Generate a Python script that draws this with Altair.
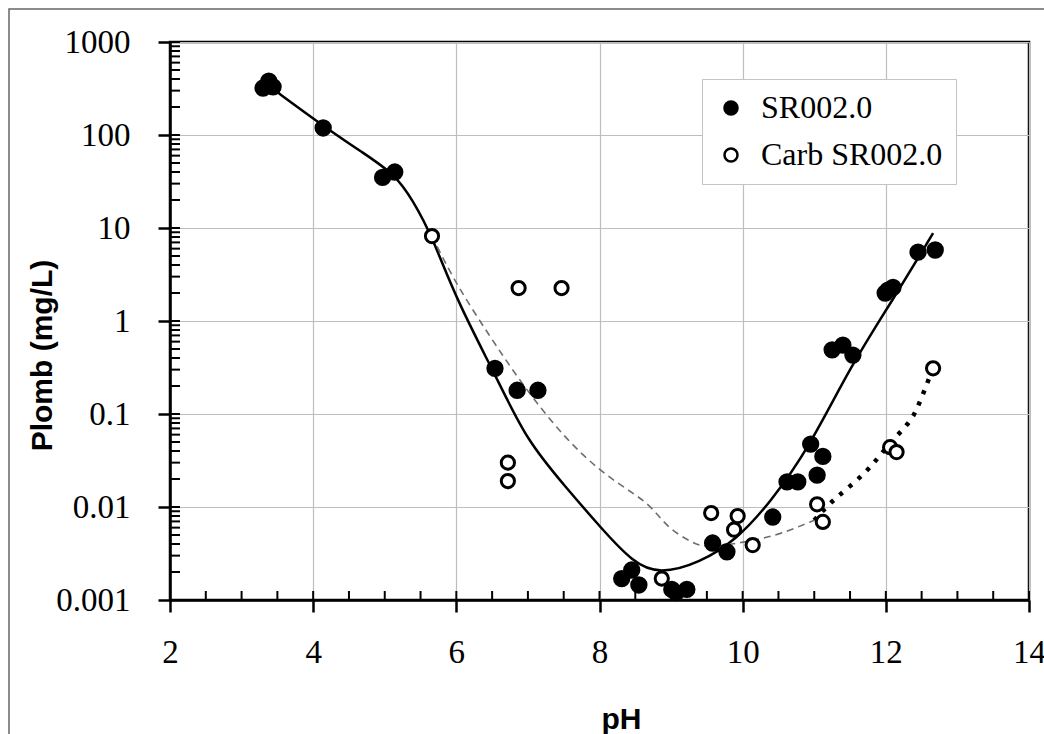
import altair as alt
import pandas as pd

# Measured lead concentrations (mg/L) versus pH
sr_ph = [3.30, 3.38, 3.44, 4.14, 4.97, 5.14, 6.54, 6.85, 7.14,
         8.31, 8.45, 8.55, 9.01, 9.07, 9.22, 9.58, 9.78, 10.42,
         10.62, 10.77, 10.95, 11.04, 11.12, 11.25, 11.40, 11.54,
         11.99, 12.03, 12.10, 12.45, 12.69]
sr_pb = [320, 380, 330, 119, 35, 40, 0.31, 0.18, 0.18,
         0.0017, 0.0021, 0.00145, 0.0013, 0.0012, 0.0013, 0.0041, 0.0033, 0.0078,
         0.0186, 0.0186, 0.0475, 0.022, 0.035, 0.49, 0.55, 0.43,
         2.0, 2.15, 2.3, 5.5, 5.8]

carb_ph = [5.66, 6.87, 7.47, 6.72, 6.72, 8.87, 9.56, 9.93, 9.88, 10.14,
           11.04, 11.12, 12.06, 12.15, 12.66]
carb_pb = [8.2, 2.26, 2.26, 0.030, 0.019, 0.0017, 0.0086, 0.008, 0.0057, 0.0039,
           0.0107, 0.0069, 0.044, 0.039, 0.31]

# Fitted curves
fit_ph = [3.42, 4.14, 4.70, 5.14, 5.39, 5.66, 6.00, 6.56, 6.98, 7.54, 8.00,
          8.47, 8.84, 9.40, 9.92, 10.38, 10.94, 11.50, 12.10, 12.66]
fit_pb = [320, 125, 64, 38, 20, 8.2, 1.7, 0.25, 0.052, 0.016, 0.0062,
          0.0025, 0.0019, 0.0025, 0.0045, 0.011, 0.045, 0.32, 1.7, 8.8]

carb_fit_ph = [5.66, 5.98, 6.47, 6.85, 7.31, 7.77, 8.24, 8.70, 8.94, 9.30,
               9.50, 10.28, 10.66, 11.00]
carb_fit_pb = [8.2, 2.6, 0.68, 0.25, 0.085, 0.035, 0.018, 0.011, 0.006, 0.0041,
               0.0036, 0.0045, 0.0056, 0.0072]

carb_tail_ph = [11.00, 11.26, 11.73, 12.01, 12.33, 12.43, 12.54, 12.62]
carb_tail_pb = [0.0072, 0.012, 0.023, 0.045, 0.08, 0.11, 0.18, 0.26]

series_names = ["SR002.0", "Carb SR002.0"]

x_ticks = [2, 4, 6, 8, 10, 12, 14]
x_minor = [v / 2 for v in range(5, 28) if v % 4 != 0]
y_ticks = [0.001, 0.01, 0.1, 1, 10, 100, 1000]
y_minor = [m * 10.0 ** e for e in range(-3, 3) for m in range(1, 10)] + [1000]

W, H = 859, 558
SERIF = "Liberation Serif"
SANS = "Liberation Sans"

sr_df = pd.DataFrame({"ph": sr_ph, "pb": sr_pb, "series": series_names[0]})
carb_df = pd.DataFrame({"ph": carb_ph, "pb": carb_pb, "series": series_names[1]})
fit = pd.DataFrame({"ph": fit_ph, "pb": fit_pb})
carb_fit = pd.DataFrame({"ph": carb_fit_ph, "pb": carb_fit_pb})
carb_tail = pd.DataFrame({"ph": carb_tail_ph, "pb": carb_tail_pb})
ytick_df = pd.DataFrame({"pb": y_minor})
xtick_df = pd.DataFrame({"ph": x_ticks + x_minor})

x_scale = alt.Scale(domain=[2, 14], nice=False, zero=False)
y_scale = alt.Scale(type="log", domain=[0.001, 1000], nice=False)

x_enc = alt.X("ph:Q", scale=x_scale, axis=alt.Axis(
    values=x_ticks, title="pH", labelPadding=24, labelFlush=False,
    titleX=451, titleY=119, titleBaseline="middle", titleAlign="center"))
y_enc = alt.Y("pb:Q", scale=y_scale, axis=alt.Axis(
    values=y_ticks, format="~g", title="Plomb (mg/L)", labelPadding=28,
    labelFlush=False, titleX=-128, titleY=313, titleAngle=270,
    titleBaseline="middle", titleAlign="center"))

fill_enc = alt.Fill(
    "series:N",
    scale=alt.Scale(domain=series_names, range=["black", "white"]),
    legend=alt.Legend(
        title=None, orient="none", legendX=532, legendY=37,
        fillColor="white", strokeColor="#c4c4c4", padding=13,
        rowPadding=15, labelFont=SERIF, labelFontSize=32, labelLimit=400,
        labelColor="black", symbolType="circle", symbolSize=170,
        symbolStrokeColor="black", symbolStrokeWidth=2.5,
        labelOffset=14),
)

# outer frame around the figure
frame = alt.Chart(pd.DataFrame({"k": [0]})).mark_rect(
    fillOpacity=0, stroke="#666666", strokeWidth=1.5
).encode(x=alt.value(-161), x2=alt.value(W + 80), y=alt.value(-33), y2=alt.value(H + 160))

# inward axis ticks
y_in = alt.Chart(ytick_df).mark_rule(color="black", strokeWidth=2).encode(
    y=y_enc, x=alt.value(0), x2=alt.value(10))
x_in = alt.Chart(xtick_df).mark_rule(color="black", strokeWidth=2).encode(
    x=x_enc, y=alt.value(H), y2=alt.value(H - 9))

fit_line = alt.Chart(fit).mark_line(
    color="black", strokeWidth=2.5, interpolate="basis"
).encode(x=x_enc, y=y_enc)
carb_line = alt.Chart(carb_fit).mark_line(
    color="#6e6e6e", strokeWidth=1.6, strokeDash=[7, 5], interpolate="basis"
).encode(x=x_enc, y=y_enc)
carb_dots = alt.Chart(carb_tail).mark_line(
    color="black", strokeWidth=4.5, strokeDash=[4, 8], interpolate="basis"
).encode(x=x_enc, y=y_enc)

sr_pts = alt.Chart(sr_df).mark_circle(
    stroke="black", strokeWidth=2, opacity=1, size=235
).encode(x=x_enc, y=y_enc, fill=fill_enc)
carb_pts = alt.Chart(carb_df).mark_circle(
    stroke="black", strokeWidth=3, opacity=1, size=175
).encode(x=x_enc, y=y_enc, fill=fill_enc)

chart = alt.layer(frame, fit_line, carb_line, carb_dots, y_in, x_in, sr_pts, carb_pts).properties(
    width=W, height=H,
    autosize=alt.AutoSizeParams(type="none"),
    padding={"left": 170, "top": 42, "right": 15, "bottom": 134},
    background="white",
).configure_view(
    stroke="black", strokeWidth=2.5
).configure_axis(
    domainColor="black", domainWidth=2.5, tickColor="black", tickWidth=2.5,
    tickSize=12, grid=True, gridColor="#bdbdbd", gridWidth=1.2,
    labelFont=SERIF, labelFontSize=33, labelColor="black",
    titleFont=SANS, titleFontSize=30, titleFontWeight="bold", titleColor="black",
)

chart.save("out.html", embed_options={"renderer": "svg", "actions": False})
